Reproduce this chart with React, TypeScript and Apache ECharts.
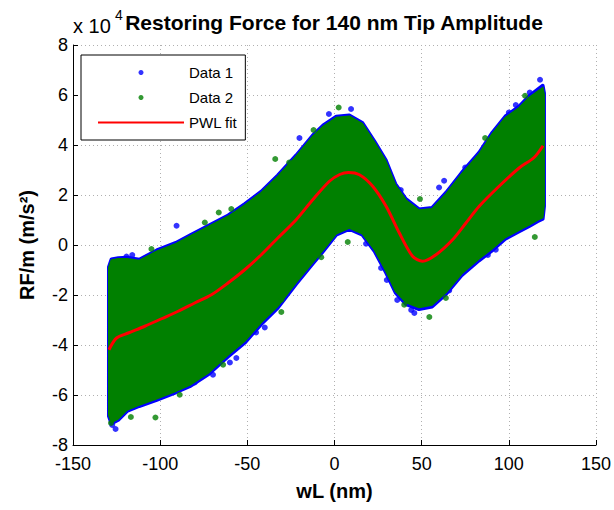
import React, { useEffect, useRef } from 'react';
import * as echarts from 'echarts';

// x ticks and y ticks (y values are in units of 10^4 m/s^2)
const xTickValues = [-150, -100, -50, 0, 50, 100, 150];
const yTickValues = [-8, -6, -4, -2, 0, 2, 4, 6, 8];

// Envelope of the dense point clouds
const cloudX = [-129.5, -128, -124, -119, -112, -102, -91, -83, -72, -61, -51.5, -42, -32.5, -22, -12.5, -6.5, 1, 8.5, 16, 23, 29.5, 35, 41, 48.5, 56, 64, 73, 83, 90.5, 98, 106, 111.5, 116.5, 119.5, 120.3];
const data2Upper = [-0.9, -0.6, -0.55, -0.55, -0.62, -0.25, 0.05, 0.35, 0.75, 1.15, 1.6, 2.1, 2.75, 3.55, 4.35, 4.75, 5.1, 5.15, 4.85, 4.1, 3.35, 2.4, 1.8, 1.4, 1.45, 2.05, 2.85, 3.65, 4.45, 5.1, 5.5, 5.9, 6.15, 6.3, 6.0];
const data2Lower = [-6.8, -7.1, -6.95, -6.6, -6.4, -6.15, -5.85, -5.6, -5.1, -4.4, -3.85, -3.1, -2.45, -1.5, -0.7, -0.2, 0.45, 0.68, 0.45, -0.2, -1.05, -1.85, -2.3, -2.5, -2.4, -1.9, -1.15, -0.55, -0.15, 0.3, 0.6, 0.8, 1.0, 1.1, 1.6];
const data1Upper = [-0.88, -0.57, -0.52, -0.5, -0.58, -0.21, 0.09, 0.39, 0.79, 1.19, 1.64, 2.14, 2.79, 3.59, 4.39, 4.79, 5.14, 5.19, 4.89, 4.14, 3.39, 2.44, 1.84, 1.43, 1.49, 2.1, 2.9, 3.7, 4.5, 5.15, 5.55, 5.95, 6.22, 6.38, 6.08];
const data1Lower = [-6.85, -7.15, -7.0, -6.65, -6.45, -6.2, -5.9, -5.66, -5.16, -4.47, -3.92, -3.17, -2.52, -1.57, -0.76, -0.26, 0.4, 0.63, 0.4, -0.26, -1.11, -1.91, -2.37, -2.57, -2.47, -1.97, -1.22, -0.62, -0.22, 0.24, 0.54, 0.74, 0.94, 1.04, 1.55];

// Isolated points at the cloud edges
const data1Points = [
  [-90.6, 0.77], [-125.6, -7.36], [-56.3, -4.52], [-69.7, -5.19], [-80.2, -5.5], [-119.3, -0.46],
  [-34.4, -1.99], [-20.1, 4.28], [9.5, 5.44], [-3.2, 5.24], [62.9, 2.57], [26.7, -0.92],
  [45.8, -2.72], [18.1, 0.05], [48.6, 1.21], [117.9, 6.61], [65.8, -1.82], [92.5, -0.19],
  [-127.5, -7.2], [-60, -4.7], [-45, -3.5], [30, -1.4], [36, -2.2], [60, 2.3], [112, 6.1], [104, 5.6],
  [-116, -0.4], [-40, -3.3], [38, 2.2], [44, -2.6], [75, 3.1], [88, -0.4], [100, 5.3],
];
const data2Points = [
  [-102.7, -6.9], [-66.4, 1.3], [-59.2, 1.44], [-74.4, 0.9], [-34, 3.44], [-63.9, -4.79],
  [-116.8, -6.88], [-128.2, -7.12], [-105, -0.16], [-30.5, -2.19], [-88.8, -5.99], [2.4, 5.5],
  [49, 1.84], [54.4, -2.88], [7.6, 0.12], [-7.6, -0.49], [40, -2.39], [-30.5, -2.68],
  [86.4, 4.28], [109.3, 5.97], [114.9, 0.32], [63.9, -2.12], [-12, 4.6], [-26, 3.3],
];

// PWL fit
const fitX = [-129.4, -125, -118.3, -108.8, -99.2, -89.7, -80.2, -70.6, -61.1, -51.5, -42, -32.5, -22, -12.5, -2.9, 3, 8, 14.3, 21.9, 29.6, 37.2, 44.8, 50.5, 58.2, 67.7, 75.4, 83, 94.4, 105.9, 114.5, 119.6];
const fitY = [-4.19, -3.72, -3.52, -3.25, -2.95, -2.65, -2.32, -1.99, -1.52, -0.99, -0.39, 0.28, 1.01, 1.81, 2.55, 2.82, 2.9, 2.81, 2.35, 1.55, 0.48, -0.45, -0.65, -0.39, 0.21, 0.88, 1.55, 2.35, 3.08, 3.5, 3.97];

const FONT = '"Liberation Sans", Arial, Helvetica, sans-serif';

function bandRenderer(up: number[], lo: number[], color: string, lw: number) {
  return (params: any, api: any) => {
    if (params.dataIndex !== 0) return null;
    const pts: number[][] = [];
    for (let i = 0; i < cloudX.length; i++) pts.push(api.coord([cloudX[i], up[i]]));
    for (let i = cloudX.length - 1; i >= 0; i--) pts.push(api.coord([cloudX[i], lo[i]]));
    return {
      type: 'polygon',
      shape: { points: pts },
      style: { fill: color, stroke: color, lineWidth: lw, lineJoin: 'round' },
    };
  };
}

export default function App() {
  const ref = useRef<HTMLDivElement>(null);
  useEffect(() => {
    if (!ref.current) return;
    const chart = echarts.init(ref.current, undefined, { renderer: 'svg' });
    const blue = '#0000ff';
    const green = '#008000';
    const red = '#ff0000';
    chart.setOption({
      animation: false,
      backgroundColor: '#fff',
      grid: { left: 73, right: 17, top: 45, bottom: 65, containLabel: false },
      xAxis: {
        type: 'value',
        min: xTickValues[0],
        max: xTickValues[xTickValues.length - 1],
        interval: 50,
        name: 'wL (nm)',
        nameLocation: 'middle',
        nameGap: 36,
        nameTextStyle: { fontSize: 20, fontWeight: 'bold', fontFamily: FONT, color: '#000' },
        axisLine: { onZero: false, lineStyle: { color: '#000', width: 1 } },
        axisTick: { inside: true, length: 5, lineStyle: { color: '#000' } },
        axisLabel: { fontSize: 18, fontFamily: FONT, color: '#000', margin: 10 },
        splitLine: { show: true, lineStyle: { color: '#b0b0b0', type: [1, 3], width: 1 } },
      },
      yAxis: {
        type: 'value',
        min: yTickValues[0],
        max: yTickValues[yTickValues.length - 1],
        interval: 2,
        name: 'RF/m (m/s²)',
        nameLocation: 'middle',
        nameGap: 36,
        nameTextStyle: { fontSize: 20, fontWeight: 'bold', fontFamily: FONT, color: '#000' },
        axisLine: { onZero: false, lineStyle: { color: '#000', width: 1 } },
        axisTick: { inside: true, length: 5, lineStyle: { color: '#000' } },
        axisLabel: { fontSize: 18, fontFamily: FONT, color: '#000', margin: 5 },
        splitLine: { show: true, lineStyle: { color: '#b0b0b0', type: [1, 3], width: 1 } },
      },
      legend: {
        orient: 'vertical',
        left: 81,
        top: 55,
        data: [
          { name: 'Data 1' },
          { name: 'Data 2' },
          { name: 'PWL fit', itemStyle: { opacity: 0, color: 'rgba(0,0,0,0)', borderWidth: 0 } },
        ],
        itemWidth: 86,
        itemHeight: 5,
        itemGap: 10,
        padding: [10, 8, 10, 16],
        borderColor: '#000',
        borderWidth: 1,
        borderRadius: 0,
        backgroundColor: '#fff',
        textStyle: { fontSize: 15, fontFamily: FONT, color: '#000' },
      },
      graphic: [
        {
          type: 'text', x: 334, y: 22.5, z: 10,
          style: { text: 'Restoring Force for 140 nm Tip Amplitude', align: 'center', verticalAlign: 'middle', font: `bold 21px ${FONT}`, fill: '#000' },
        },
        {
          type: 'text', x: 73, y: 26, z: 10,
          style: { text: 'x 10', align: 'left', verticalAlign: 'middle', font: `20px ${FONT}`, fill: '#000' },
        },
        {
          type: 'text', x: 115, y: 15, z: 10,
          style: { text: '4', align: 'left', verticalAlign: 'middle', font: `14px ${FONT}`, fill: '#000' },
        },
      ],
      series: [
        {
          name: 'Data 1 cloud',
          type: 'custom',
          renderItem: bandRenderer(data1Upper, data1Lower, blue, 3.5),
          data: cloudX.map((x, i) => [x, data1Upper[i], data1Lower[i]]),
          encode: { x: 0, y: [1, 2] },
          z: 1,
          silent: true,
        },
        {
          name: 'Data 1',
          type: 'scatter',
          data: data1Points,
          symbol: 'circle',
          symbolSize: 6,
          itemStyle: { color: blue },
          z: 2,
        },
        {
          name: 'Data 2 cloud',
          type: 'custom',
          renderItem: bandRenderer(data2Upper, data2Lower, green, 1.5),
          data: cloudX.map((x, i) => [x, data2Upper[i], data2Lower[i]]),
          encode: { x: 0, y: [1, 2] },
          z: 3,
          silent: true,
        },
        {
          name: 'Data 2',
          type: 'scatter',
          data: data2Points,
          symbol: 'circle',
          symbolSize: 6,
          itemStyle: { color: green },
          z: 4,
        },
        {
          name: 'PWL fit',
          type: 'line',
          data: fitX.map((x, i) => [x, fitY[i]]),
          showSymbol: false,
          symbol: 'none',
          smooth: 0.3,
          lineStyle: { color: red, width: 3 },
          itemStyle: { color: red },
          z: 5,
        },
      ],
    });
    return () => chart.dispose();
  }, []);
  return <div ref={ref} style={{ width: 614, height: 510, position: 'absolute', left: 0, top: 0 }} />;
}
